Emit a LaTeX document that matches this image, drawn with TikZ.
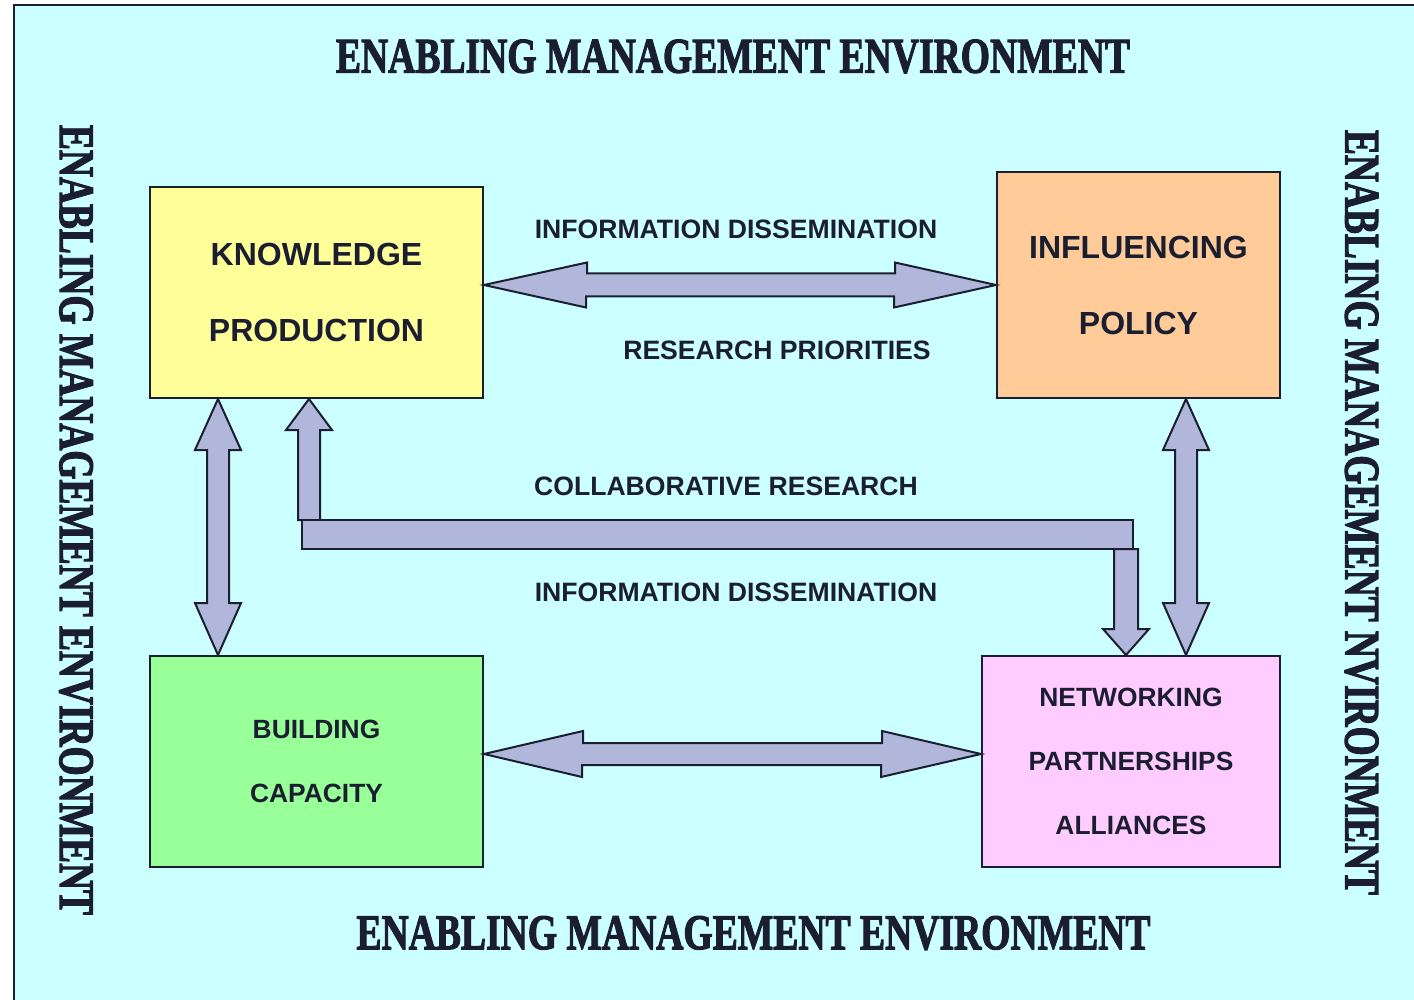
\documentclass[tikz,border=0pt]{standalone}
\usepackage{fontspec}
\setmainfont{Liberation Serif}
\setsansfont{Liberation Sans}
\newfontfamily\stencilish{Liberation Serif}[FakeBold=2.5]
\usepackage{graphicx}
\usepackage{tikz}
\usetikzlibrary{calc}
\usetikzlibrary{positioning}
\definecolor{bgcyan}{HTML}{CCFFFF}
\definecolor{ink}{HTML}{1B1E30}
\definecolor{arrowfill}{HTML}{B0B7DB}
\definecolor{kpyellow}{HTML}{FFFF99}
\definecolor{iporange}{HTML}{FFCC99}
\definecolor{bcgreen}{HTML}{99FF99}
\definecolor{nppink}{HTML}{FFCCFF}
\tikzset{>=latex}
\tikzset{
    box/.style={draw=ink, line width=1pt, text=ink, align=center, inner sep=0pt},
    bigtxt/.style={font=\fontsize{16}{38}\selectfont\sffamily\bfseries},
    smalltxt/.style={font=\fontsize{13.2}{32}\selectfont\sffamily\bfseries},
    flowlabel/.style={text=ink, inner sep=0pt, font=\fontsize{13.3}{16}\selectfont\sffamily\bfseries},
    blockarrow/.style={draw=ink, fill=arrowfill, line width=1pt, line join=miter},
    envtitle/.style={text=ink, inner sep=0pt, font=\stencilish\bfseries}
}

\begin{document}
\begin{tikzpicture}[x=.5pt, y=-.5pt]
    \useasboundingbox (0, 0) rectangle (1414, 1000);
    \clip (0, 0) rectangle (1414, 1000);
    \fill[white](0, 0) rectangle (1414, 1000);
    \draw[draw=ink, fill=bgcyan, line width=1pt](14, 5) rectangle (1430, 1012);

    \node[envtitle](toptitle) at (733, 56.5){\resizebox{397pt}{16.5pt}{ENABLING MANAGEMENT ENVIRONMENT}};
    \node[envtitle](bottitle) at (753.5, 933){\resizebox{397pt}{16.5pt}{ENABLING MANAGEMENT ENVIRONMENT}};
    \node[envtitle, rotate=-90](lefttitle) at (76, 520){\resizebox{395pt}{16.5pt}{ENABLING MANAGEMENT ENVIRONMENT}};
    \node[envtitle, rotate=-90](righttitle) at (1361.5, 512.5){\resizebox{382.5pt}{16.5pt}{ENABLING MANAGEMENT NVIRONMENT}};

    \node[box, bigtxt, fill=kpyellow, minimum width=166.5pt, minimum height=105.5pt](kp) at (316.5, 292.5){KNOWLEDGE\\PRODUCTION};
    \node[box, bigtxt, fill=iporange, minimum width=141.5pt, minimum height=113pt](ip) at (1138.5, 285){INFLUENCING\\POLICY};
    \node[box, smalltxt, fill=bcgreen, minimum width=166.5pt, minimum height=105.5pt](bc) at (316.5, 761.5){BUILDING\\CAPACITY};
    \node[box, smalltxt, fill=nppink, minimum width=149pt, minimum height=105.5pt](np) at (1131, 761.5){NETWORKING\\PARTNERSHIPS\\ALLIANCES};

    \coordinate (ltop) at ([xshift=-49.25pt]kp.south);
    \coordinate (rtop) at ([xshift=23.75pt]ip.south);
    \coordinate (cr) at ([xshift=-3.75pt]kp.south);
    \coordinate (dn) at ([xshift=-2.5pt]np.north);

    \draw[blockarrow](kp.east |- ip.west) -- ++(103, -22.5) -- ++(0, 11) -- ++(308, 0) -- ++(0, -11) -- (ip.west)
        -- ++(-102, 22.5) -- ++(0, -11) -- ++(-308, 0) -- ++(0, 11) -- cycle;
    \draw[blockarrow]([yshift=3.75pt]bc.east) -- ++(99, -23) -- ++(0, 12) -- ++(299, 0) -- ++(0, -12) -- ([yshift=3.75pt]np.west)
        -- ++(-100, 23) -- ++(0, -12) -- ++(-299, 0) -- ++(0, 12) -- cycle;
    \draw[blockarrow](ltop) -- ++(23, 51) -- ++(-12, 0) -- ++(0, 153) -- ++(12, 0) -- (ltop |- bc.north)
        -- ++(-23, -52) -- ++(12, 0) -- ++(0, -153) -- ++(-12, 0) -- cycle;
    \draw[blockarrow](rtop) -- ++(23, 51) -- ++(-12, 0) -- ++(0, 153) -- ++(12, 0) -- (rtop |- np.north)
        -- ++(-23, -52) -- ++(12, 0) -- ++(0, -153) -- ++(-12, 0) -- cycle;
    \draw[blockarrow](cr) -- ++(23, 31) -- ++(-12, 0) -- ++(0, 90) -- ++(-22, 0) -- ++(0, -90) -- ++(-12, 0) -- cycle;
    \draw[blockarrow]($(cr)+(-7, 121)$) rectangle ($(dn)+(7, -106)$);
    \draw[blockarrow](dn) -- ++(23, -26) -- ++(-11, 0) -- ++(0, -80) -- ++(-24, 0) -- ++(0, 80) -- ++(-11, 0) -- cycle;

    \node[flowlabel](infotop) at (736, 229){INFORMATION DISSEMINATION};
    \node[flowlabel](research) at (777, 350){RESEARCH PRIORITIES};
    \node[flowlabel](collab) at (726, 486){COLLABORATIVE RESEARCH};
    \node[flowlabel](infobot) at (736, 592){INFORMATION DISSEMINATION};
\end{tikzpicture}
\end{document}
